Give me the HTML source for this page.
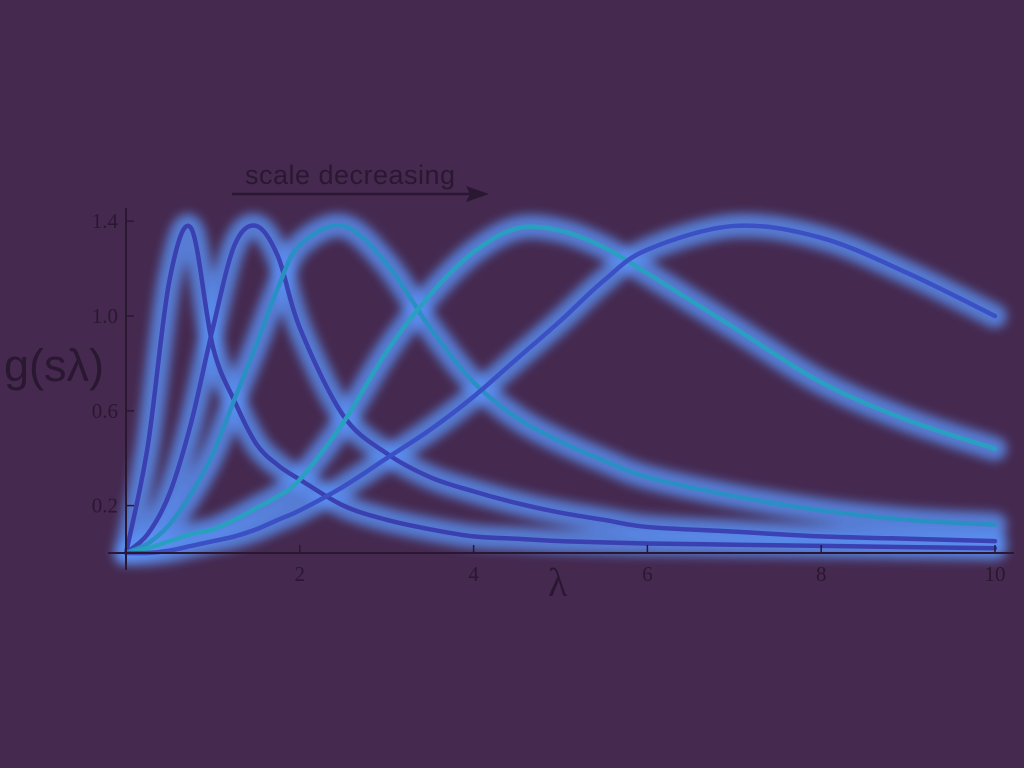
<!DOCTYPE html>
<html><head><meta charset="utf-8"><style>
html,body{margin:0;padding:0;background:#45294f;}
svg{display:block;}
</style></head><body>
<svg id="chart" width="1024" height="768" viewBox="0 0 1024 768">
<defs>
<filter id="glow" x="-10%" y="-20%" width="120%" height="140%"><feGaussianBlur stdDeviation="5"/></filter>
</defs>
<rect width="1024" height="768" fill="#45294f"/>
<g id="curves-glow" filter="url(#glow)"></g>
<g id="curves-core"></g>
<g id="axes" stroke="#2a1832" fill="none">
<line x1="108" y1="553" x2="1014" y2="553" stroke-width="2"/>
<line x1="126" y1="208" x2="126" y2="570" stroke-width="2"/>
</g>
<g id="ticks"></g>
<text x="4" y="381" font-family="Liberation Sans, sans-serif" font-size="45" fill="#2a1832">g(sλ)</text>
<text x="548" y="596" font-family="Liberation Serif, serif" font-size="40" fill="#2a1832">λ</text>
<text x="245" y="184" font-family="Liberation Sans, sans-serif" font-size="27" fill="#2a1832" textLength="210">scale decreasing</text>
<line x1="232" y1="194" x2="478" y2="194" stroke="#2a1832" stroke-width="2.5"/>
<polygon points="489,194 466,186 470,194 466,202" fill="#2a1832"/>
</svg>
<script>
const lambdas=[0,0.25,0.5,0.75,1,1.25,1.5,1.75,2,2.5,3,3.5,4,4.5,5,5.5,6,7,8,9,10];
const scale1=[0,0.45,1.15,1.37,0.87,0.64,0.46,0.37,0.31,0.2,0.14,0.1,0.07,0.06,0.05,0.045,0.04,0.035,0.03,0.025,0.02];
const scale2=[0,0.08,0.25,0.55,0.95,1.3,1.38,1.25,0.95,0.58,0.42,0.32,0.26,0.21,0.17,0.14,0.11,0.09,0.07,0.06,0.05];
const scale3=[0,0.04,0.12,0.25,0.42,0.65,0.88,1.12,1.3,1.38,1.22,0.95,0.72,0.57,0.47,0.39,0.32,0.24,0.18,0.14,0.12];
const scale4=[0,0.02,0.05,0.08,0.1,0.14,0.19,0.24,0.31,0.55,0.85,1.09,1.27,1.37,1.36,1.29,1.18,0.95,0.72,0.56,0.44];
const scale5=[0,0,0.01,0.03,0.05,0.07,0.1,0.14,0.18,0.28,0.4,0.52,0.66,0.82,0.98,1.15,1.28,1.38,1.33,1.18,1.0];
const xTicks=[2,4,6,8,10];
const yTicks=[0.2,0.6,1.0,1.4];
const yTickLabels=["0.2","0.6","1.0","1.4"];
const series=[scale1,scale2,scale3,scale4,scale5];
const coreColors=["#3a40b0","#3a42b4","#2a90c4","#2aa0c0","#3a50c4"];
function xs(v){return 126+v*86.9;}
function ys(v){return 553-v*237;}
const NS="http://www.w3.org/2000/svg";
function pathFor(vals){
  const p=lambdas.map((l,i)=>[xs(l),ys(vals[i])]);
  let d="M"+p[0][0]+","+p[0][1];
  for(let i=0;i<p.length-1;i++){
    const p0=p[Math.max(0,i-1)],p1=p[i],p2=p[i+1],p3=p[Math.min(p.length-1,i+2)];
    const c1x=p1[0]+(p2[0]-p0[0])/6,c1y=p1[1]+(p2[1]-p0[1])/6;
    const c2x=p2[0]-(p3[0]-p1[0])/6,c2y=p2[1]-(p3[1]-p1[1])/6;
    d+=" C"+c1x+","+c1y+" "+c2x+","+c2y+" "+p2[0]+","+p2[1];
  }
  return d;
}
const gGlow=document.getElementById('curves-glow');
const gCore=document.getElementById('curves-core');
series.forEach((s,k)=>{
  const d=pathFor(s);
  const g=document.createElementNS(NS,'path');
  g.setAttribute('d',d);g.setAttribute('fill','none');g.setAttribute('stroke','#5a90f4');
  g.setAttribute('stroke-width','24');g.setAttribute('stroke-linecap','round');g.setAttribute('stroke-opacity','0.8');
  
  
  gGlow.appendChild(g);
  const c=document.createElementNS(NS,'path');
  c.setAttribute('d',d);c.setAttribute('fill','none');c.setAttribute('stroke',coreColors[k]);
  c.setAttribute('stroke-width','4.5');c.setAttribute('stroke-linecap','round');
  
  
  gCore.appendChild(c);
});
const gt=document.getElementById('ticks');
xTicks.forEach(t=>{
  const l=document.createElementNS(NS,'line');
  l.setAttribute('x1',xs(t));l.setAttribute('x2',xs(t));l.setAttribute('y1',545);l.setAttribute('y2',553);
  l.setAttribute('stroke','#2a1832');l.setAttribute('stroke-width','1.5');
  
  
  gt.appendChild(l);
  const tx=document.createElementNS(NS,'text');
  tx.setAttribute('x',xs(t));tx.setAttribute('y',581);tx.setAttribute('text-anchor','middle');
  tx.setAttribute('font-family','Liberation Serif, serif');tx.setAttribute('font-size','21');tx.setAttribute('fill','#2a1832');
  tx.textContent=String(t);
  
  
  gt.appendChild(tx);
});
yTicks.forEach((t,i)=>{
  const l=document.createElementNS(NS,'line');
  l.setAttribute('x1',126);l.setAttribute('x2',134);l.setAttribute('y1',ys(t));l.setAttribute('y2',ys(t));
  l.setAttribute('stroke','#2a1832');l.setAttribute('stroke-width','1.5');
  
  
  gt.appendChild(l);
  const tx=document.createElementNS(NS,'text');
  tx.setAttribute('x',118);tx.setAttribute('y',ys(t)+7);tx.setAttribute('text-anchor','end');
  tx.setAttribute('font-family','Liberation Serif, serif');tx.setAttribute('font-size','21');tx.setAttribute('fill','#2a1832');
  tx.textContent=yTickLabels[i];
  
  
  gt.appendChild(tx);
});
</script>
</body></html>
